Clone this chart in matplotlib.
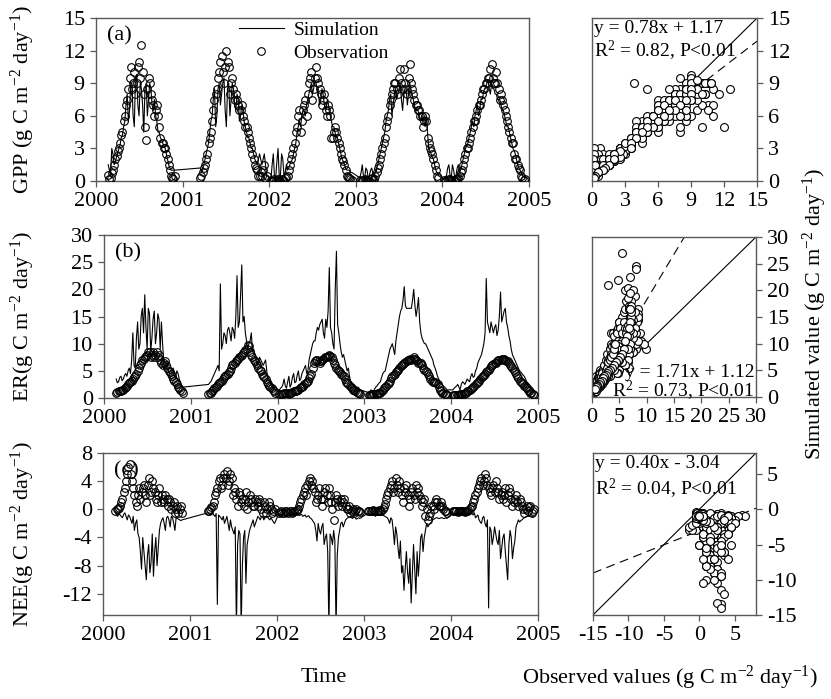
import numpy as np
import matplotlib
matplotlib.use('Agg')
import matplotlib.pyplot as plt
from matplotlib.lines import Line2D

plt.rcParams['font.family'] = ['Liberation Serif', 'DejaVu Serif']
plt.rcParams['mathtext.fontset'] = 'custom'
plt.rcParams['mathtext.rm'] = 'Liberation Serif'
plt.rcParams['mathtext.it'] = 'Liberation Serif:italic'
plt.rcParams['mathtext.default'] = 'regular'
plt.rcParams['axes.unicode_minus'] = False

# measurement days (day of year) in each season, first pass every 10 days
years = [2000, 2001, 2002, 2003, 2004]
days_2000 = list(range(52, 333, 10))
days_2001 = list(range(75, 356, 10))
days_2002 = list(range(8, 349, 10))
days_2003 = list(range(18, 349, 10))
days_2004 = list(range(8, 349, 10))
# second pass, 5 days later
mid_2000 = list(range(57, 333, 10))
mid_2001 = list(range(80, 356, 10))
mid_2002 = list(range(13, 349, 10))
mid_2003 = list(range(23, 349, 10))
mid_2004 = list(range(13, 349, 10))

# GPP (g C m-2 day-1)
gpp_obs = [0.6, 0.3, 1.0, 2.0, 2.8, 3.5, 4.5, 6.0, 7.5, 9.5, 8.5, 10.0, 9.0, 11.0, 12.5, 8.0, 3.8, 9.5, 8.0, 7.0,
           6.5, 6.0, 4.0, 3.5, 3.0, 2.0, 1.0, 0.3, 0.5,
           0.3, 0.8, 1.5, 2.5, 4.0, 5.5, 7.5, 8.5, 10.0, 11.5, 9.0, 12.0, 10.5, 9.0, 8.5, 8.0, 7.0, 6.5, 6.0, 5.0,
           4.5, 3.5, 2.5, 1.5, 1.0, 0.5, 0.5, 1.5, 0.5,
           0.1, 0.0, 0.1, 0.2, 0.0, 0.1, 0.3, 0.5, 1.5, 2.5, 3.5, 5.0, 6.5, 5.5, 7.0, 6.0, 9.0, 10.0, 8.5, 10.5,
           9.0, 8.0, 7.5, 6.5, 7.0, 6.0, 4.0, 5.0, 4.0, 3.0, 2.0, 1.5, 0.5, 0.3, 0.1,
           0.1, 0.0, 0.2, 0.1, 0.0, 0.3, 0.2, 0.8, 1.5, 2.5, 3.5, 5.0, 6.0, 7.5, 8.5, 9.0, 8.0, 10.3, 8.5, 9.0,
           8.0, 10.8, 8.5, 7.5, 7.0, 6.5, 6.0, 5.5, 5.5, 3.5, 2.8, 2.0, 1.0, 0.3,
           0.1, 0.0, 0.2, 0.1, 0.0, 0.2, 0.3, 0.8, 1.5, 2.5, 3.0, 4.0, 5.0, 5.5, 6.5, 7.0, 8.0, 8.5, 9.0, 9.5,
           10.8, 9.0, 10.0, 8.5, 8.0, 7.0, 6.0, 5.0, 4.0, 3.5, 2.0, 1.5, 1.0, 0.3, 0.2]
gpp_sim = [1.5, 0.5, 2.5, 1.8, 2.6, 3.3, 4.2, 5.5, 8.0, 6.5, 9.0, 5.0, 9.8, 6.0, 8.5, 4.5, 9.0, 7.5, 8.5, 6.5,
           6.0, 4.5, 4.0, 3.5, 3.0, 2.0, 1.2, 1.0, 1.0,
           1.2, 1.0, 2.0, 3.0, 4.5, 6.0, 8.5, 6.0, 9.0, 8.0, 9.5, 5.0, 9.0, 7.5, 8.5, 6.5, 7.5, 6.0, 6.5, 5.0,
           4.0, 3.5, 3.0, 2.0, 1.5, 2.5, 1.5, 2.5, 0.5,
           0.2, 2.5, 0.3, 3.0, 0.5, 2.0, 0.8, 1.0, 1.5, 2.0, 3.0, 4.5, 5.5, 6.0, 6.5, 7.0, 8.0, 9.0, 8.5, 9.0,
           8.0, 7.5, 8.0, 6.5, 7.5, 6.0, 5.0, 4.5, 4.0, 3.0, 2.0, 1.5, 1.0, 1.0, 0.8,
           0.3, 1.5, 0.2, 1.0, 0.5, 1.2, 0.4, 1.0, 2.0, 3.0, 4.0, 5.5, 6.5, 8.0, 7.0, 8.5, 8.0, 9.0, 6.5, 8.5,
           7.0, 9.0, 8.0, 7.0, 6.5, 6.0, 6.0, 5.5, 6.0, 3.0, 2.5, 2.0, 1.0, 0.5,
           0.2, 0.5, 1.5, 0.3, 1.0, 0.5, 1.5, 1.0, 2.0, 3.0, 3.5, 4.5, 5.5, 6.0, 7.0, 6.5, 7.5, 8.5, 9.0, 8.5,
           9.0, 8.5, 8.0, 7.5, 7.0, 6.5, 5.5, 5.0, 4.0, 3.0, 2.5, 1.5, 1.0, 0.5, 0.3]
gpp_obs_mid = [0.2, 0.7, 1.5, 2.3, 3.0, 4.2, 5.5, 7.0, 8.5, 10.5, 9.0, 8.0, 10.5, 9.5, 10.0, 5.0, 8.5, 9.0, 7.5, 6.0,
               7.0, 5.0, 3.5, 3.0, 2.5, 1.5, 0.5, 0.2,
               0.5, 1.2, 2.0, 3.5, 4.5, 6.5, 8.0, 9.5, 11.0, 10.0, 10.5, 11.0, 8.0, 9.5, 7.5, 7.5, 6.5, 7.0, 5.5, 5.0,
               4.0, 3.0, 2.0, 1.2, 0.5, 0.8, 1.0, 0.3,
               0.0, 0.2, 0.0, 0.1, 0.2, 0.0, 0.4, 1.0, 2.0, 3.0, 4.5, 6.0, 4.5, 6.5, 7.5, 8.0, 9.5, 7.5, 9.5, 9.5,
               8.5, 7.0, 8.0, 6.0, 6.5, 4.0, 4.5, 4.5, 3.5, 2.5, 1.8, 1.0, 0.4, 0.2,
               0.0, 0.1, 0.1, 0.0, 0.2, 0.1, 0.5, 1.2, 2.0, 3.0, 4.0, 5.5, 7.0, 8.0, 9.0, 8.5, 9.5, 9.0, 10.3, 8.5,
               9.5, 9.0, 8.0, 7.0, 6.5, 6.0, 5.0, 6.0, 4.0, 3.0, 2.5, 1.5, 0.5,
               0.0, 0.1, 0.2, 0.0, 0.1, 0.2, 0.5, 1.0, 2.0, 3.0, 3.5, 4.5, 5.5, 6.0, 7.0, 7.5, 8.5, 9.0, 9.5, 10.3,
               9.5, 9.0, 9.0, 7.5, 7.5, 6.5, 5.5, 4.5, 3.5, 2.5, 2.0, 1.2, 0.5, 0.1]
gpp_sim_mid = [1.0, 3.0, 1.5, 2.2, 3.0, 4.0, 5.0, 7.0, 5.5, 9.0, 6.0, 9.5, 7.0, 9.0, 7.0, 8.5, 6.0, 9.0, 7.0, 7.5,
               5.5, 4.5, 3.8, 3.2, 2.5, 1.5, 1.0, 1.0,
               0.8, 1.5, 2.5, 3.5, 5.5, 7.5, 5.0, 8.5, 7.0, 9.0, 6.5, 8.5, 6.0, 9.0, 7.0, 8.0, 5.5, 7.0, 5.5, 4.5,
               4.0, 3.0, 2.5, 1.8, 2.0, 2.0, 2.0, 1.5,
               1.5, 0.3, 1.8, 0.4, 2.5, 0.5, 1.5, 1.2, 1.8, 2.5, 3.5, 5.0, 5.0, 6.5, 6.0, 7.5, 8.5, 8.0, 9.2, 8.5,
               7.0, 8.5, 7.0, 7.0, 6.5, 5.5, 5.0, 4.0, 3.5, 2.5, 1.8, 1.2, 1.0, 0.8,
               0.8, 0.4, 1.2, 0.3, 1.0, 0.6, 0.8, 1.5, 2.5, 3.5, 4.5, 6.0, 7.5, 6.0, 8.0, 7.5, 8.5, 7.5, 8.0, 8.5,
               8.0, 8.5, 7.5, 6.5, 6.5, 5.5, 6.0, 5.0, 4.5, 2.8, 2.2, 1.5, 0.8,
               0.4, 1.2, 0.5, 1.5, 0.3, 1.2, 0.8, 1.5, 2.5, 3.2, 4.0, 5.0, 5.0, 6.5, 6.0, 7.5, 8.0, 8.5, 9.3, 8.0,
               8.5, 8.0, 7.5, 7.5, 6.5, 6.0, 5.0, 4.5, 3.5, 2.8, 2.0, 1.2, 0.8, 0.4]

# ER (g C m-2 day-1)
er_obs = [1.0, 1.2, 1.3, 1.5, 2.0, 2.5, 3.0, 3.5, 4.0, 5.0, 6.0, 7.0, 7.5, 8.0, 8.5, 8.0, 7.5, 8.5, 8.0, 6.5,
          6.5, 6.0, 5.0, 4.5, 3.5, 3.0, 2.0, 1.5, 1.0,
          0.8, 1.0, 1.5, 2.0, 2.5, 3.0, 3.5, 4.0, 4.5, 5.0, 6.0, 6.5, 7.0, 7.5, 8.0, 8.5, 9.0, 9.5, 8.0, 7.0,
          6.5, 5.5, 5.0, 4.0, 3.5, 2.5, 2.0, 1.5, 1.0,
          0.8, 0.7, 0.9, 1.0, 0.8, 1.0, 1.2, 1.3, 1.5, 2.0, 2.2, 2.8, 3.2, 4.0, 5.5, 6.8, 7.0, 6.5, 7.0, 7.5,
          7.5, 8.0, 7.5, 6.5, 5.5, 5.0, 4.5, 4.0, 3.0, 2.5, 2.0, 1.5, 1.2, 1.0, 0.8,
          0.6, 0.5, 0.7, 0.8, 0.9, 1.0, 1.5, 2.0, 2.5, 3.2, 4.0, 4.5, 5.0, 5.5, 6.0, 6.5, 6.8, 7.0, 7.0, 7.5,
          7.0, 6.5, 6.5, 5.5, 5.0, 4.5, 3.5, 3.0, 3.0, 2.5, 1.5, 1.0, 0.8, 0.6,
          0.5, 0.6, 0.5, 0.7, 0.8, 0.9, 1.2, 1.4, 1.8, 2.2, 2.8, 3.2, 3.8, 4.2, 4.8, 5.2, 5.8, 6.2, 6.5, 7.0,
          7.0, 7.2, 7.0, 6.8, 6.0, 5.5, 4.8, 4.0, 3.2, 2.8, 2.2, 1.8, 1.2, 0.9, 0.6]
er_sim = [3.5, 3.0, 4.0, 3.5, 4.5, 5.0, 4.5, 12.0, 5.5, 14.0, 10.0, 16.5, 19.0, 9.0, 15.5, 11.0, 16.0, 12.0, 14.5, 14.0,
          6.5, 6.0, 5.0, 4.5, 5.5, 4.0, 4.5, 2.5, 2.0,
          2.5, 3.0, 4.0, 5.0, 6.0, 21.0, 10.0, 11.5, 12.5, 12.0, 13.0, 11.0, 22.5, 14.0, 24.5, 15.0, 10.5, 10.0, 12.0, 9.0,
          7.0, 6.5, 7.0, 6.0, 7.0, 3.5, 3.0, 2.0, 1.5,
          1.5, 2.0, 3.5, 1.8, 4.0, 2.5, 4.5, 3.0, 5.0, 3.5, 5.0, 6.0, 5.0, 8.0, 10.0, 10.5, 13.0, 13.5, 14.5, 11.0,
          13.0, 24.0, 12.0, 9.0, 27.0, 12.0, 8.5, 8.0, 6.0, 5.5, 3.0, 2.5, 2.0, 2.0, 1.5,
          1.0, 1.5, 1.2, 2.0, 2.5, 3.0, 4.5, 5.0, 7.0, 9.0, 10.0, 8.0, 12.0, 15.0, 16.5, 20.5, 16.5, 16.5, 16.5, 20.0,
          15.0, 18.5, 12.0, 10.5, 10.0, 9.0, 8.0, 7.0, 5.5, 4.0, 3.0, 2.5, 2.0, 1.5,
          1.5, 2.0, 2.5, 1.5, 3.0, 2.5, 3.5, 3.0, 4.5, 4.0, 5.5, 7.0, 8.0, 10.0, 22.0, 13.0, 14.0, 12.0, 13.5, 12.5,
          19.5, 15.0, 16.5, 13.0, 10.5, 8.0, 7.0, 6.0, 5.0, 4.5, 4.0, 3.0, 2.5, 2.0, 1.5]
er_obs_mid = [1.1, 1.2, 1.4, 1.8, 2.2, 2.8, 3.2, 3.8, 4.5, 5.5, 6.5, 7.2, 7.8, 8.5, 7.5, 8.5, 8.0, 7.5, 7.0, 6.0,
              6.8, 5.5, 4.8, 4.0, 3.2, 2.5, 1.8, 1.2,
              0.9, 1.2, 1.8, 2.2, 2.8, 3.2, 3.8, 4.2, 4.8, 5.5, 6.2, 6.8, 7.2, 7.8, 8.2, 8.8, 9.8, 8.5, 7.5, 6.8,
              6.0, 5.2, 4.5, 3.8, 3.0, 2.2, 1.8, 1.2,
              0.7, 0.8, 1.0, 0.9, 0.9, 1.1, 1.2, 1.4, 1.8, 2.1, 2.5, 3.0, 3.6, 4.5, 6.5, 7.0, 6.8, 6.8, 7.2, 7.5,
              7.8, 7.8, 7.0, 6.0, 5.2, 4.8, 4.2, 3.5, 2.8, 2.2, 1.8, 1.4, 1.1, 0.9,
              0.5, 0.6, 0.8, 0.8, 1.0, 1.2, 1.8, 2.2, 2.8, 3.6, 4.2, 4.8, 5.2, 5.8, 6.2, 6.7, 7.0, 7.2, 7.2, 7.2,
              6.8, 6.5, 6.0, 5.2, 4.8, 4.0, 3.2, 3.0, 2.8, 2.0, 1.2, 0.9, 0.7,
              0.6, 0.5, 0.6, 0.8, 0.8, 1.0, 1.3, 1.6, 2.0, 2.5, 3.0, 3.5, 4.0, 4.5, 5.0, 5.5, 6.0, 6.4, 6.8, 7.0,
              7.1, 7.1, 6.9, 6.4, 5.8, 5.2, 4.4, 3.6, 3.0, 2.5, 2.0, 1.5, 1.0, 0.8]
er_sim_mid = [2.8, 3.8, 3.2, 4.2, 4.0, 5.5, 7.0, 6.0, 11.0, 9.0, 15.0, 12.0, 13.0, 16.5, 8.5, 14.5, 10.0, 15.5, 9.0, 10.0,
              5.5, 6.5, 4.5, 5.0, 4.0, 5.0, 3.5, 2.0,
              2.8, 3.5, 4.5, 5.5, 5.0, 9.0, 12.0, 10.0, 13.0, 10.5, 12.5, 15.0, 13.0, 19.0, 14.0, 12.0, 9.0, 10.5, 8.5, 8.0,
              6.0, 7.5, 6.5, 6.5, 5.0, 3.0, 2.5, 1.8,
              1.8, 2.5, 2.2, 3.0, 2.0, 3.8, 2.8, 4.2, 3.2, 4.5, 5.5, 4.5, 7.0, 9.0, 10.5, 12.0, 12.5, 14.0, 12.0, 14.5,
              16.0, 13.0, 10.0, 20.0, 13.5, 10.0, 7.5, 7.0, 5.0, 4.0, 2.8, 2.2, 2.0, 1.8,
              1.2, 1.3, 1.6, 2.2, 2.8, 3.8, 4.8, 6.0, 8.0, 9.5, 9.0, 10.5, 13.5, 16.0, 18.0, 17.0, 16.5, 16.5, 18.0, 17.0,
              16.5, 14.0, 11.0, 10.0, 9.5, 8.5, 7.5, 6.0, 4.8, 3.5, 2.8, 2.2, 1.8,
              1.8, 2.2, 2.0, 2.5, 2.8, 3.0, 3.2, 4.0, 3.8, 5.0, 6.5, 7.5, 9.0, 12.0, 14.0, 12.0, 13.0, 13.0, 11.5, 15.0,
              14.0, 16.0, 14.0, 11.5, 9.0, 7.5, 6.5, 5.5, 4.8, 4.2, 3.5, 2.8, 2.2, 1.8]

# NEE (g C m-2 day-1)
nee_obs = [-0.2, 0.0, 0.5, 1.5, 3.0, 5.0, 6.5, 4.0, 2.0, 0.5, 3.0, 2.5, 3.5, 1.0, 4.5, 2.5, 3.0, 1.5, 2.0, 1.0,
           1.5, 2.0, 0.5, 1.0, 0.5, -0.5, 0.5, 0.0, -0.5,
           -0.3, 0.0, 0.5, 2.0, 3.0, 4.5, 3.5, 5.0, 5.5, 4.0, 4.5, 3.0, 1.5, 2.5, 1.0, 0.5, 2.5, 1.0, 1.5, 0.5,
           1.5, 0.5, 1.0, -0.5, 0.5, 0.0, 0.5, -0.5, 0.0,
           -0.5, -0.3, -0.5, -0.2, -0.5, -0.3, -0.4, -0.2, 0.0, 1.0, 2.0, 3.0, 3.5, 4.5, 4.0, 2.5, 1.5, 3.0, 0.5, 2.5,
           2.0, 3.0, 1.0, -1.5, 2.0, 0.5, 1.5, 1.0, 0.5, 0.0, -0.5, 0.0, -0.3, -0.2, -0.4,
           -0.2, -0.3, -0.1, -0.2, -0.3, -0.2, 0.0, 0.8, 2.0, 3.0, 4.0, 3.0, 3.5, 4.0, 2.0, 3.0, 3.5, 0.5, 2.5, 2.0,
           3.5, 3.0, 1.5, 1.0, -1.0, -1.5, -0.5, 0.5, 1.0, 1.0, 0.5, 0.5, -0.3, -0.5,
           -0.3, -0.2, -0.4, -0.3, -0.2, -0.4, -0.3, 0.0, 0.5, 1.5, 2.5, 3.5, 4.5, 4.0, 4.5, 3.0, 2.0, 3.5, 4.0, 2.5,
           2.0, 1.5, 3.0, 2.0, 2.5, 0.5, 1.5, 1.0, 1.5, 0.5, -0.5, 0.5, 0.3, -0.5, 0.0]
nee_sim = [-0.5, -1.0, -0.8, -1.2, -0.5, -1.5, -1.0, -2.0, -3.0, -1.5, -4.0, -8.5, -6.0, -10.0, -5.0, -7.5, -9.5, -4.0,
           -5.5, -2.0, -1.2, -3.0, -1.0, -2.5, -1.2, -3.0, -1.3, -1.5, -1.5,
           -0.5, -0.8, -0.5, -1.0, -13.5, -1.0, -1.5, -2.0, -1.0, -3.0, -2.5, -3.5, -17.0, -3.0, -17.0, -4.0, -10.5,
           -4.0, -2.5, -1.5, -2.0, -1.0, -1.5, -1.0, -1.2, -1.0, -1.5, -1.5, -2.0,
           -0.6, -0.8, -0.5, -1.0, -0.6, -0.8, -0.5, -0.9, -0.7, -0.8, -1.0, -0.8, -1.0, -1.2, -1.5, -2.0, -4.5, -3.0,
           -2.5, -5.0, -3.5, -17.0, -4.0, -3.0, -17.0, -4.0, -2.0, -2.5, -1.5, -1.2, -1.0, -1.3, -1.2, -1.3, -1.3,
           -0.5, -0.8, -0.6, -1.0, -0.7, -0.9, -0.8, -1.0, -1.2, -2.0, -1.5, -5.0, -3.5, -7.0, -9.0, -11.5, -6.0,
           -10.5, -13.3, -5.0, -12.0, -9.5, -4.0, -6.0, -3.0, -2.5, -2.0, -1.5, -1.3, -1.2, -1.3, -1.2, -1.3, -1.3,
           -0.5, -0.6, -0.4, -0.7, -0.5, -0.6, -0.5, -0.8, -0.6, -0.5, -1.0, -1.5, -2.0, -1.0, -2.5, -14.0, -3.0,
           -4.0, -3.5, -5.0, -7.0, -4.0, -6.0, -10.0, -3.0, -7.0, -4.5, -2.0, -1.8, -1.5, -1.2, -1.0, -1.0, -1.0, -1.0]
nee_obs_mid = [0.0, 0.2, 1.0, 2.5, 4.0, 6.0, 5.0, 3.0, 1.0, 2.0, 1.5, 3.0, 2.0, 3.5, 2.0, 4.0, 2.5, 1.0, 3.0, 2.0,
               1.0, 1.5, 1.5, 0.0, 1.0, 0.0, -0.5, 0.5,
               -0.2, 0.3, 1.0, 2.5, 4.0, 3.0, 4.5, 4.5, 3.5, 5.0, 2.0, 2.5, 0.5, 2.0, 1.5, 1.5, 0.0, 2.0, 1.0, 0.5,
               1.0, 1.5, 0.0, 1.0, -0.5, 1.0, 0.0, -0.3,
               -0.4, -0.5, -0.3, -0.4, -0.3, -0.5, -0.3, -0.1, 0.5, 1.5, 2.5, 2.0, 4.0, 3.5, 3.0, 1.0, 2.0, 1.5, 1.5, 3.0,
               1.0, 2.0, 0.0, 1.0, 1.5, 1.0, 0.5, 1.5, 0.0, 0.5, -0.3, -0.5, 0.0, -0.3,
               -0.3, -0.2, -0.2, -0.3, -0.1, -0.3, 0.3, 1.5, 2.5, 3.5, 2.5, 4.5, 2.5, 3.0, 1.0, 2.5, 2.0, 1.5, 3.0, 1.5,
               2.5, 2.0, 0.5, 1.5, 0.0, -1.0, 0.5, 0.0, 1.5, 0.5, 1.0, 0.0, -0.2,
               -0.2, -0.3, -0.3, -0.2, -0.3, -0.2, -0.1, 0.3, 1.0, 2.0, 3.0, 4.0, 3.5, 5.0, 3.5, 2.5, 3.0, 2.5, 3.0, 1.5,
               2.5, 2.0, 1.0, 3.0, 1.5, 1.0, 2.0, 0.5, 1.0, 0.0, 0.0, -0.3, 0.5, -0.2]
nee_sim_mid = [-0.8, -0.6, -1.0, -0.7, -1.0, -0.8, -1.5, -1.0, -2.0, -3.5, -6.0, -4.0, -8.0, -6.5, -9.0, -3.5, -6.0,
               -8.0, -3.0, -1.5, -2.0, -1.2, -1.5, -1.0, -2.0, -1.2, -1.4, -1.6,
               -0.6, -0.5, -0.8, -0.6, -0.8, -1.2, -1.0, -1.5, -2.0, -1.5, -3.0, -2.5, -5.0, -3.5, -8.0, -3.0, -5.0,
               -3.0, -2.0, -2.5, -1.5, -1.2, -1.0, -1.5, -1.0, -1.3, -1.2, -1.8,
               -0.7, -0.6, -0.8, -0.7, -0.9, -0.6, -0.8, -0.6, -0.9, -0.7, -0.9, -1.1, -0.9, -1.3, -1.8, -3.0, -2.0,
               -3.5, -2.0, -4.0, -6.0, -3.5, -5.0, -4.5, -6.5, -3.0, -1.8, -2.0, -1.3, -1.1, -1.2, -1.0, -1.4, -1.2,
               -0.7, -0.6, -0.8, -0.8, -0.8, -0.7, -0.9, -1.1, -1.5, -1.2, -3.0, -2.5, -5.5, -4.5, -8.0, -8.5, -9.0,
               -7.0, -9.0, -8.5, -6.0, -7.0, -3.5, -4.0, -2.0, -2.2, -1.8, -1.4, -1.2, -1.3, -1.2, -1.3, -1.2,
               -0.6, -0.5, -0.6, -0.5, -0.7, -0.5, -0.6, -0.7, -0.8, -1.2, -0.8, -1.8, -1.2, -2.0, -1.5, -2.5, -5.0,
               -2.5, -4.5, -3.0, -5.5, -3.5, -8.0, -5.0, -4.0, -5.5, -2.5, -1.5, -1.6, -1.3, -1.1, -1.0, -0.9, -1.0]

# regression of simulated on observed
fit_labels = ['y = 0.78x + 1.17', 'y = 1.71x + 1.12', 'y = 0.40x - 3.04']
fit_slopes = [0.78, 1.71, 0.40]
fit_icepts = [1.17, 1.12, -3.04]
r2_labels = ['R$^2$ = 0.82, P<0.01', 'R$^2$ = 0.73, P<0.01', 'R$^2$ = 0.04, P<0.01']


def dec_time(day_lists):
    out = []
    for yr, dd in zip(years, day_lists):
        out += [yr + (d - 0.5) / 365.0 for d in dd]
    return out


t = np.array(dec_time([days_2000, days_2001, days_2002, days_2003, days_2004])
             + dec_time([mid_2000, mid_2001, mid_2002, mid_2003, mid_2004]))
order = np.argsort(t)

fs = 16
fig = plt.figure(figsize=(8.31, 6.99), dpi=100)
ax_a = fig.add_axes([0.1155, 0.741, 0.521, 0.2332])
ax_b = fig.add_axes([0.1251, 0.4306, 0.5223, 0.2332])
ax_c = fig.add_axes([0.1240, 0.1202, 0.5235, 0.2318])
sc_a = fig.add_axes([0.7124, 0.741, 0.1986, 0.2332])
sc_b = fig.add_axes([0.7124, 0.4320, 0.1974, 0.2290])
sc_c = fig.add_axes([0.7136, 0.1202, 0.1962, 0.2318])


def style(ax):
    for s in ax.spines.values():
        s.set_color('0.35')
        s.set_linewidth(1.0)
    ax.tick_params(direction='out', length=4, width=0.9, labelsize=fs, color='0.35', pad=4)


series = [(ax_a, sc_a, gpp_obs + gpp_obs_mid, gpp_sim + gpp_sim_mid, (0, 15), [0, 3, 6, 9, 12, 15], '(a)'),
          (ax_b, sc_b, er_obs + er_obs_mid, er_sim + er_sim_mid, (0, 30), [0, 5, 10, 15, 20, 25, 30], '(b)'),
          (ax_c, sc_c, nee_obs + nee_obs_mid, nee_sim + nee_sim_mid, (-15, 8), [-12, -8, -4, 0, 4, 8], '(c)')]

for i, (ax, sc, obs, sim, ylim, yt, lab) in enumerate(series):
    assert len(obs) == len(t) and len(sim) == len(t)
    obs = np.array(obs)[order]
    sim = np.array(sim)[order]
    tt = t[order]
    ax.plot(tt, sim, color='black', lw=0.8, zorder=2)
    ax.plot(tt, obs, 'o', mfc='none', mec='black', ms=5.5, mew=0.8, zorder=3)
    ax.set_xlim(2000, 2005)
    ax.set_ylim(*ylim)
    ax.set_xticks(years + [2005])
    ax.set_yticks(yt)
    ax.text(0.025, 0.95, lab, transform=ax.transAxes, ha='left', va='top', fontsize=fs)
    style(ax)

    # observed vs simulated
    if i == 0:
        lim = (0, 15)
        ticks = [0, 3, 6, 9, 12, 15]
    elif i == 1:
        lim = (0, 30)
        ticks = [0, 5, 10, 15, 20, 25, 30]
    else:
        lim = (-15, 8)
        ticks = [-15, -10, -5, 0, 5]
    xx = np.array(lim, dtype=float)
    sc.plot(xx, xx, color='black', lw=0.8, zorder=1)
    sc.plot(xx, fit_slopes[i] * xx + fit_icepts[i], color='black', lw=0.8, ls=(0, (8, 5)), zorder=1)
    sc.scatter(obs, sim, s=32, facecolors='white', edgecolors='black', linewidths=0.8, zorder=2)
    sc.set_xlim(*lim)
    sc.set_ylim(*lim)
    sc.set_xticks(ticks)
    sc.set_yticks(ticks)
    sc.yaxis.tick_right()
    style(sc)

# equations
sc_a.text(0.01, 0.985, fit_labels[0], transform=sc_a.transAxes, ha='left', va='top', fontsize=14)
sc_a.text(0.01, 0.87, r2_labels[0], transform=sc_a.transAxes, ha='left', va='top', fontsize=14)
sc_b.text(0.99, 0.155, fit_labels[1], transform=sc_b.transAxes, ha='right', va='center', fontsize=14)
sc_b.text(0.99, 0.04, r2_labels[1], transform=sc_b.transAxes, ha='right', va='center', fontsize=14)
sc_c.text(0.01, 0.985, fit_labels[2], transform=sc_c.transAxes, ha='left', va='top', fontsize=14)
sc_c.text(0.01, 0.85, r2_labels[2], transform=sc_c.transAxes, ha='left', va='top', fontsize=14)

# legend
handles = [Line2D([], [], color='black', lw=0.8),
           Line2D([], [], ls='none', marker='o', mfc='none', mec='black', ms=5.5, mew=0.8)]
ax_a.legend(handles, ['Simulation', 'Observation'], loc='upper left', bbox_to_anchor=(0.29, 1.085),
            frameon=False, fontsize=14, handlelength=2.3, labelspacing=0.25, handletextpad=0.5)

# axis titles
unit = ' (g C m$^{-2}$ day$^{-1}$)'
fig.text(0.028, 1 - 100 / 699, 'GPP' + unit, rotation=90, ha='center', va='center', fontsize=fs)
fig.text(0.028, 1 - 317 / 699, 'ER(g C m$^{-2}$ day$^{-1}$)', rotation=90, ha='center', va='center', fontsize=fs)
fig.text(0.028, 1 - 534 / 699, 'NEE(g C m$^{-2}$ day$^{-1}$)', rotation=90, ha='center', va='center', fontsize=fs)
fig.text(0.981, 1 - 314 / 699, 'Simulated value' + unit, rotation=90, ha='center', va='center', fontsize=fs)
fig.text(324 / 831, 1 - 678 / 699, 'Time', ha='center', va='center', fontsize=fs)
fig.text(670 / 831, 1 - 678 / 699, 'Observed values' + unit, ha='center', va='center', fontsize=fs)

fig.savefig('out.png', dpi=100)
